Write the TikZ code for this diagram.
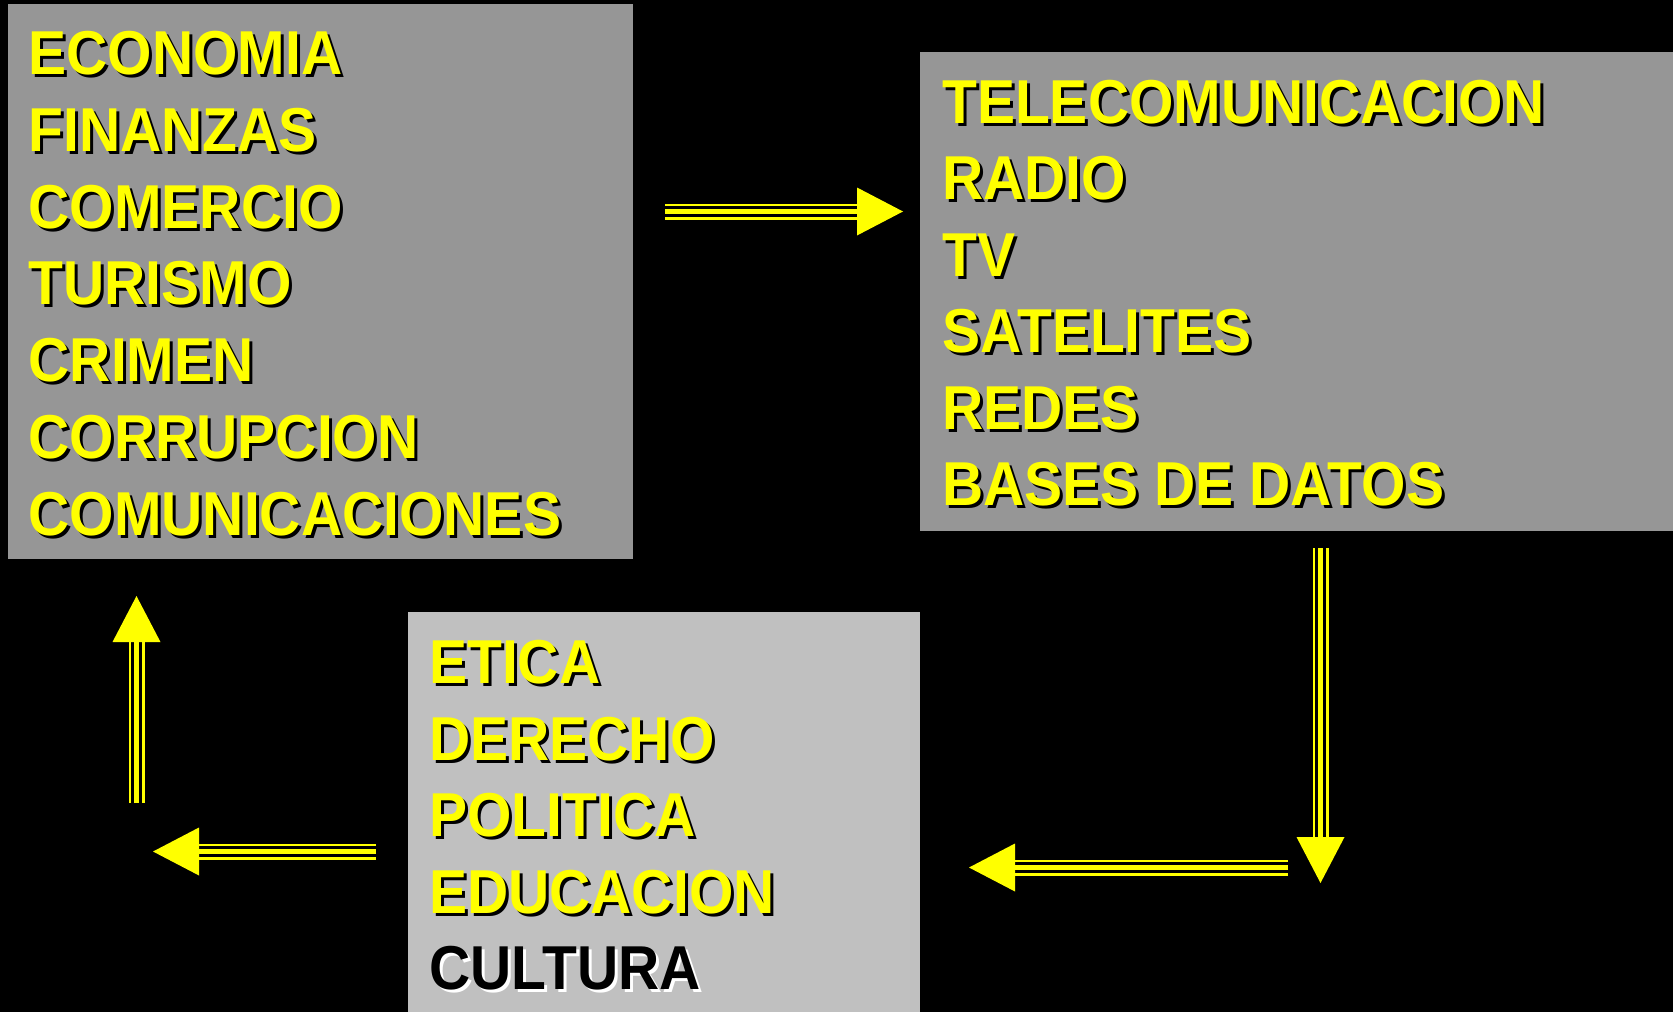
\documentclass[tikz,border=0pt]{standalone}
\usepackage{fontspec}
\setmainfont{Liberation Sans}[FakeStretch=0.92]
\usetikzlibrary{calc}
\definecolor{boxgray}{RGB}{150,150,150}
\definecolor{boxlight}{RGB}{192,192,192}
\definecolor{ylw}{RGB}{255,255,0}
\newcommand\shtext[3]{\makebox[0pt][l]{\hspace*{3pt}\raisebox{-3pt}{\color{#2}#3}}{\color{#1}#3}}
\newcommand\triarrow[2]{%
  \coordinate (tmpb) at ($(#2)!46pt!(#1)$);
  \draw[ylw, line width=16pt] (#1) -- (tmpb);
  \draw[black, line width=11pt] (#1) -- (tmpb);
  \draw[ylw, line width=5.5pt] (#1) -- (tmpb);
  \fill[ylw] (#2) -- ($(tmpb)!24pt!90:(#2)$) -- ($(tmpb)!24pt!-90:(#2)$) -- cycle;
}
\tikzset{
  panel/.style={draw=none, inner sep=0pt, outer sep=0pt, anchor=north west},
  item/.style={anchor=base west, inner sep=0pt, font=\fontsize{62}{74}\selectfont\bfseries},
}
\begin{document}
\begin{tikzpicture}[x=1pt,y=-1pt]
\useasboundingbox (0,0) rectangle (1673,1012);
\fill[black] (0,0) rectangle (1673,1012);
% panels
\node[panel, fill=boxgray, minimum width=625pt, minimum height=555pt] (b1) at (8,4) {};
\node[panel, fill=boxgray, minimum width=753pt, minimum height=479pt] (b2) at (920,52) {};
\node[panel, fill=boxlight, minimum width=512pt, minimum height=400pt] (b3) at (408,612) {};
% box 1 items
\foreach \t [count=\i from 0] in {ECONOMIA,FINANZAS,COMERCIO,TURISMO,CRIMEN,CORRUPCION,COMUNICACIONES}
  \node[item] (b1-\i) at (28.5,74.5+76.8*\i) {\shtext{ylw}{black}{\t}};
% box 2 items
\foreach \t [count=\i from 0] in {TELECOMUNICACION,RADIO,TV,SATELITES,REDES,BASES DE DATOS}
  \node[item] (b2-\i) at (942,123+76.5*\i) {\shtext{ylw}{black}{\t}};
% box 3 items
\foreach \t [count=\i from 0] in {ETICA,DERECHO,POLITICA,EDUCACION}
  \node[item] (b3-\i) at (429,683.5+76.5*\i) {\shtext{ylw}{black}{\t}};
\node[item] (b3-4) at (429,989.5) {\shtext{black}{white}{CULTURA}};
% arrow ends
\coordinate (a1s) at (665,211.5);   \coordinate (a1t) at (903,211.5);
\coordinate (a2s) at (1320.5,548);  \coordinate (a2t) at (1320.5,883);
\coordinate (a3s) at (1288,867.5);  \coordinate (a3t) at (969,867.5);
\coordinate (a4s) at (376,851.5);   \coordinate (a4t) at (153,851.5);
\coordinate (a5s) at (136.5,803);   \coordinate (a5t) at (136.5,596);
\triarrow{a1s}{a1t}
\triarrow{a2s}{a2t}
\triarrow{a3s}{a3t}
\triarrow{a4s}{a4t}
\triarrow{a5s}{a5t}
\end{tikzpicture}
\end{document}
